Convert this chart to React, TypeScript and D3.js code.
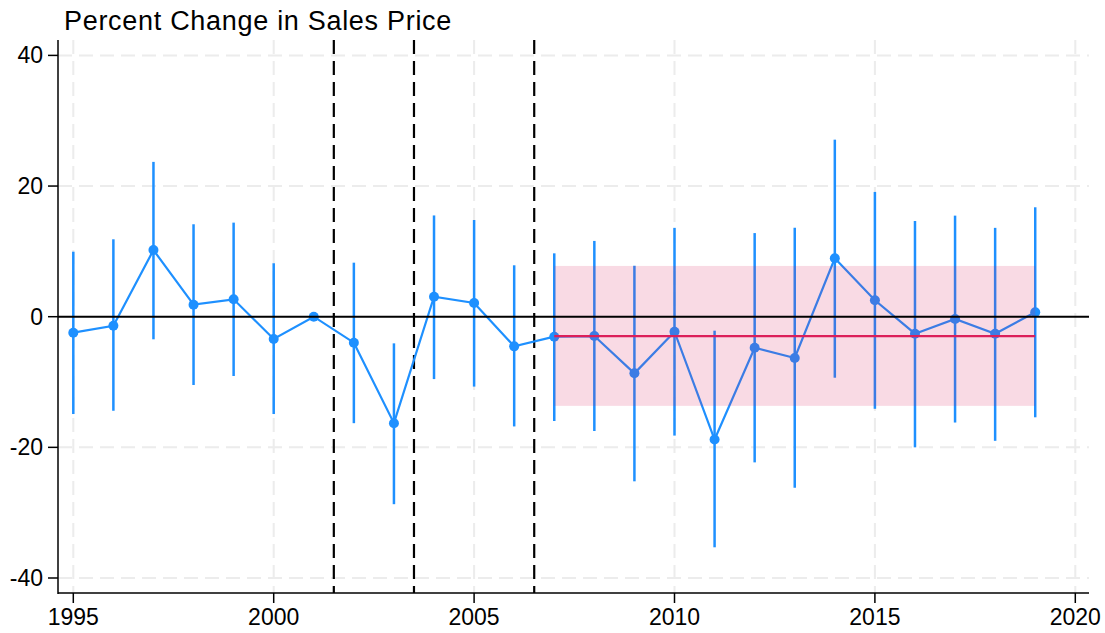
import React from 'react';
import * as d3 from 'd3';

const years = d3.range(1995, 2020);
const estimate = [-2.45, -1.38, 10.2, 1.84, 2.66, -3.41, 0, -3.98, -16.3, 3.06, 2.1, -4.54, -3.06, -2.96, -8.67, -2.3, -18.8, -4.75, -6.32, 8.94, 2.51, -2.6, -0.35, -2.6, 0.67];
const ciHigh = [9.95, 11.85, 23.7, 14.15, 14.4, 8.18, null, 8.27, -4.08, 15.5, 14.8, 7.87, 9.7, 11.6, 7.8, 13.6, -2.14, 12.8, 13.6, 27.1, 19.1, 14.65, 15.47, 13.6, 16.75];
const ciLow = [-14.9, -14.4, -3.46, -10.46, -9.08, -14.9, null, -16.3, -28.7, -9.55, -10.7, -16.8, -15.97, -17.5, -25.2, -18.2, -35.3, -22.3, -26.2, -9.34, -14.1, -20.0, -16.2, -19.0, -15.4];

const eventLines = [2001.5, 2003.5, 2006.5];
const postYears = [2007, 2019];
const postMean = -2.96;
const postBand = [-13.65, 7.77];

const xTicks = [1995, 2000, 2005, 2010, 2015, 2020];
const yTicks = [-40, -20, 0, 20, 40];

const BLUE = '#1e90ff';
const FONT = '"Liberation Sans", Arial, Helvetica, sans-serif';

export default function App() {
  const width = 1105;
  const height = 633;
  const left = 58, right = 1089, top = 40, bottom = 593;

  const x = d3.scaleLinear().domain([1995, 2020]).range([73.3, 1075.3]);
  const y = d3.scaleLinear().domain([-40, 40]).range([578, 55.4]);

  const line = d3.line<number>()
    .x((d, i) => x(years[i]))
    .y(d => y(d));

  return (
    <svg width={width} height={height} style={{ position: 'absolute', left: 0, top: 0 }}>
      <rect width={width} height={height} fill="#fff" />
      <text x={64} y={30} fontFamily={FONT} fontSize={27} letterSpacing={0.7} fill="#000">Percent Change in Sales Price</text>

      {/* grid */}
      {xTicks.map(t => (
        <line key={'gx' + t} x1={x(t)} x2={x(t)} y1={top} y2={bottom} stroke="#ececec" strokeWidth={2} strokeDasharray="14,7" />
      ))}
      {yTicks.filter(t => t !== 0).map(t => (
        <line key={'gy' + t} x1={left} x2={right} y1={y(t)} y2={y(t)} stroke="#ececec" strokeWidth={2} strokeDasharray="14,7" />
      ))}

      {/* event markers */}
      {eventLines.map(v => (
        <line key={'ev' + v} x1={x(v)} x2={x(v)} y1={top} y2={bottom} stroke="#000" strokeWidth={2.2} strokeDasharray="14,7" />
      ))}

      {/* estimates */}
      {years.map((yr, i) => ciHigh[i] == null ? null : (
        <line key={'ci' + yr} x1={x(yr)} x2={x(yr)} y1={y(ciHigh[i] as number)} y2={y(ciLow[i] as number)} stroke={BLUE} strokeWidth={2.5} />
      ))}
      <path d={line(estimate) || ''} fill="none" stroke={BLUE} strokeWidth={2.2} />
      {years.map((yr, i) => (
        <circle key={'pt' + yr} cx={x(yr)} cy={y(estimate[i])} r={5} fill={BLUE} />
      ))}

      {/* post-period band */}
      <rect x={x(postYears[0])} width={x(postYears[1]) - x(postYears[0])} y={y(postBand[1])} height={y(postBand[0]) - y(postBand[1])} fill="rgb(215,25,90)" fillOpacity={0.16} />

      <line x1={left} x2={right} y1={y(0)} y2={y(0)} stroke="#000" strokeWidth={2} />
      <line x1={x(postYears[0])} x2={x(postYears[1])} y1={y(postMean)} y2={y(postMean)} stroke="#dc1f5a" strokeWidth={2.2} />

      {/* axes */}
      <line x1={left} x2={left} y1={top} y2={bottom + 1} stroke="#000" strokeWidth={1.5} />
      <line x1={left} x2={right} y1={bottom} y2={bottom} stroke="#000" strokeWidth={1.5} />
      {yTicks.map(t => (
        <g key={'yt' + t}>
          <line x1={left - 10} x2={left} y1={y(t)} y2={y(t)} stroke="#000" strokeWidth={1.5} />
          <text x={43} y={y(t)} dy="0.35em" textAnchor="end" fontFamily={FONT} fontSize={23}>{t}</text>
        </g>
      ))}
      {xTicks.map(t => (
        <g key={'xt' + t}>
          <line x1={x(t)} x2={x(t)} y1={bottom} y2={bottom + 10} stroke="#000" strokeWidth={1.5} />
          <text x={x(t)} y={625} textAnchor="middle" fontFamily={FONT} fontSize={23}>{t}</text>
        </g>
      ))}
    </svg>
  );
}
